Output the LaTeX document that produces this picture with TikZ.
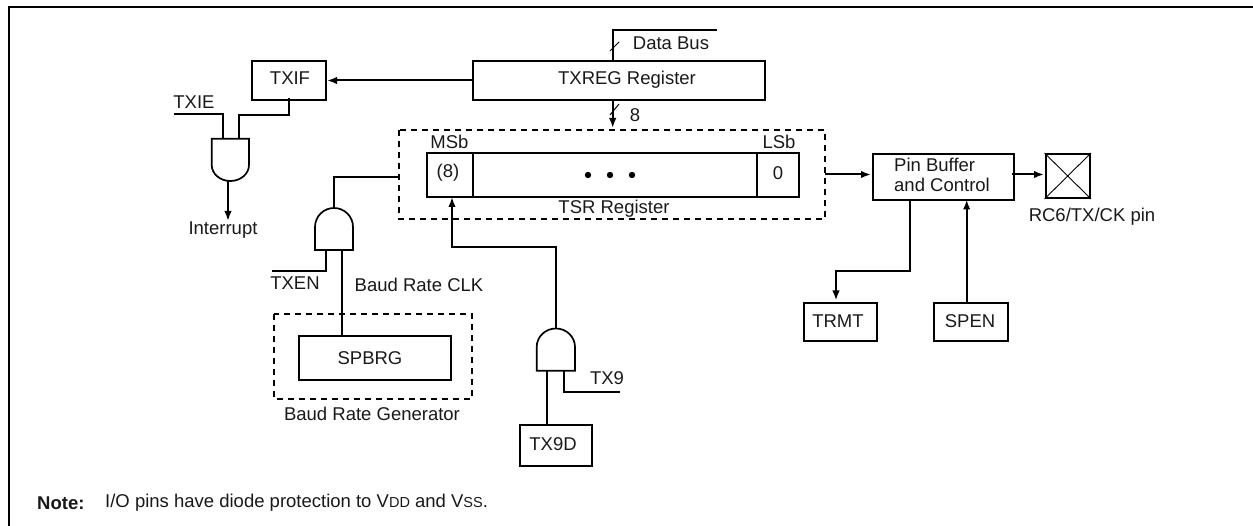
\documentclass[tikz,border=0pt]{standalone}
\usepackage{fontspec}
\setmainfont{Liberation Sans}
\usetikzlibrary{arrows.meta,calc}
\tikzset{
  wire/.style={line width=2pt,line cap=butt},
  arr/.style={wire,-{Latex[length=10pt,width=7.5pt]}},
  box/.style={draw,line width=2pt,rectangle,inner sep=0pt,anchor=north west},
  dash box/.style={draw,line width=1.6pt,dash pattern=on 6pt off 5pt},
  lbl/.style={inner sep=0pt,font=\fontsize{18.5}{18.5}\selectfont,text=black!90},
  gate/.style={line width=1.7pt},
  tick/.style={line width=1pt}
}
\newcommand{\smc}[1]{{\fontsize{14.5}{14.5}\selectfont #1}}
\begin{document}
\begin{tikzpicture}[x=1pt,y=-1pt]
\useasboundingbox (0,0) rectangle (1253,526);
\draw[line width=2pt] (9,526) -- (9,6.8) -- (1253,6.8);
% boxes
\node[box,minimum width=74pt,minimum height=39pt] (txif) at (251,60) {};
\node[lbl] at (290,78) {TXIF};
\node[box,minimum width=292pt,minimum height=39.5pt] (txreg) at (472,60) {};
\node[lbl] at (627,80) {TXREG Register};
\node[box,minimum width=372pt,minimum height=44pt] (tsr) at (426,152) {};
\coordinate (d1t) at (472.7,152); \coordinate (d1b) at (472.7,196);
\coordinate (d2t) at (757,152); \coordinate (d2b) at (757,196);
\draw[wire] (d1t) -- (d1b); \draw[wire] (d2t) -- (d2b);
\node[lbl] at (449.5,142) {MSb};
\node[lbl] at (779,142) {LSb};
\node[lbl] at (448,173) {(8)};
\node[lbl] at (778,173) {0};
\foreach \xx in {588,610,632} \fill (\xx,175) circle (3.2pt);
\node[lbl] at (614,209) {TSR Register};
\node[box,minimum width=141pt,minimum height=46.5pt] (pin) at (872,152.7) {};
\node[lbl,align=left,anchor=north west,font=\fontsize{18.5}{19.5}\selectfont] at (894,158) {Pin Buffer\\and Control};
\node[box,minimum width=44.5pt,minimum height=44pt] (pad) at (1044.5,153) {};
\draw[line width=.9pt] (pad.north west) -- (pad.south east) (pad.north east) -- (pad.south west);
\node[lbl] at (1092,217) {RC6/TX/CK pin};
\node[box,minimum width=73pt,minimum height=38.5pt] (trmt) at (803,301.7) {};
\node[lbl] at (838,321) {TRMT};
\node[box,minimum width=74pt,minimum height=38.5pt] (spen) at (933,301.7) {};
\node[lbl] at (970,321) {SPEN};
\node[box,minimum width=152pt,minimum height=44.5pt] (spbrg) at (298,335) {};
\node[lbl] at (370,358) {SPBRG};
\node[box,minimum width=72pt,minimum height=41pt] (tx9d) at (519,424) {};
\node[lbl] at (553,444) {TX9D};
% dashed frames
\coordinate (tsrA) at (399,130); \coordinate (tsrB) at (825,219);
\draw[dash box] (tsrA) rectangle (tsrB);
\coordinate (bgA) at (274,314); \coordinate (bgB) at (472,399);
\draw[dash box] (bgA) rectangle (bgB);
\node[lbl] at (372,413.5) {Baud Rate Generator};
% gates
\draw[gate] (211.7,138.7) -- (249,138.7) -- (249,165) arc[start angle=0,end angle=180,x radius=18.65,y radius=16] -- cycle;
\coordinate (g1o) at (228,181); \coordinate (g1a) at (223,138.7); \coordinate (g1b) at (238.7,138.7);
\draw[gate] (315,250) -- (353,250) -- (353,227) arc[start angle=0,end angle=-180,x radius=19,y radius=19] -- cycle;
\coordinate (g2o) at (334,208); \coordinate (g2a) at (326,250); \coordinate (g2b) at (341.7,250);
\draw[gate] (536.7,370.7) -- (575,370.7) -- (575,347) arc[start angle=0,end angle=-180,x radius=19.15,y radius=18.5] -- cycle;
\coordinate (g3o) at (556,328.5); \coordinate (g3a) at (546.7,370.7); \coordinate (g3b) at (564,370.7);
% connectors
\coordinate (dbTop) at (612.7,30); \coordinate (dbEnd) at (716.7,30);
\draw[wire] (612.7,60) -- (dbTop) -- (dbEnd);
\draw[tick] (610,51) -- (619,42);
\node[lbl] at (671,43) {Data Bus};
\coordinate (in8) at (612.7,128);
\draw[arr] (612.7,99.5) -- (in8);
\draw[tick] (610,115) -- (619,104);
\node[lbl] at (635,115) {8};
\draw[arr] (txreg.west |- txif.east) -- (txif.east);
\coordinate (txieEnd) at (174,114);
\draw[wire] (g1a) -- (223,114) -- (txieEnd);
\node[lbl] at (194,102) {TXIE};
\draw[wire] (g1b) -- (238.7,115) -- (289,115) -- (289,98.5);
\coordinate (intr) at (228,221);
\draw[arr] (g1o) -- (intr);
\node[lbl] at (223,230) {Interrupt};
\coordinate (tsrL) at (399,177);
\draw[wire] (g2o) -- (334,177) -- (tsrL);
\coordinate (txenEnd) at (272,271);
\draw[wire] (g2a) -- (326,271) -- (txenEnd);
\node[lbl] at (295,283) {TXEN};
\draw[wire] (g2b) -- (341.7,335);
\node[lbl] at (419,285) {Baud Rate CLK};
\draw[arr] (g3o) -- (556,246.7) -- (452,246.7) -- (452,197);
\draw[wire] (g3a) -- (546.7,424);
\coordinate (tx9End) at (620,392);
\draw[wire] (g3b) -- (564,392) -- (tx9End);
\node[lbl] at (607,378) {TX9};
\coordinate (tsrR) at (825,174.5);
\draw[arr] (tsrR) -- (871,174.5);
\draw[arr] (1012,174.5) -- (1044,174.5);
\draw[arr] (910,199) -- (910,270.7) -- (836,270.7) -- (836,300.5);
\draw[arr] (966.7,301.7) -- (966.7,199.5);
% note
\node[lbl,anchor=west,font=\fontsize{18.5}{18.5}\selectfont\bfseries] at (37,503) {Note:};
\node[lbl,anchor=west,font=\fontsize{18.5}{18.5}\selectfont] at (105,503) {I/O pins have diode protection to V\smc{DD} and V\smc{SS}.};
\end{tikzpicture}
\end{document}
